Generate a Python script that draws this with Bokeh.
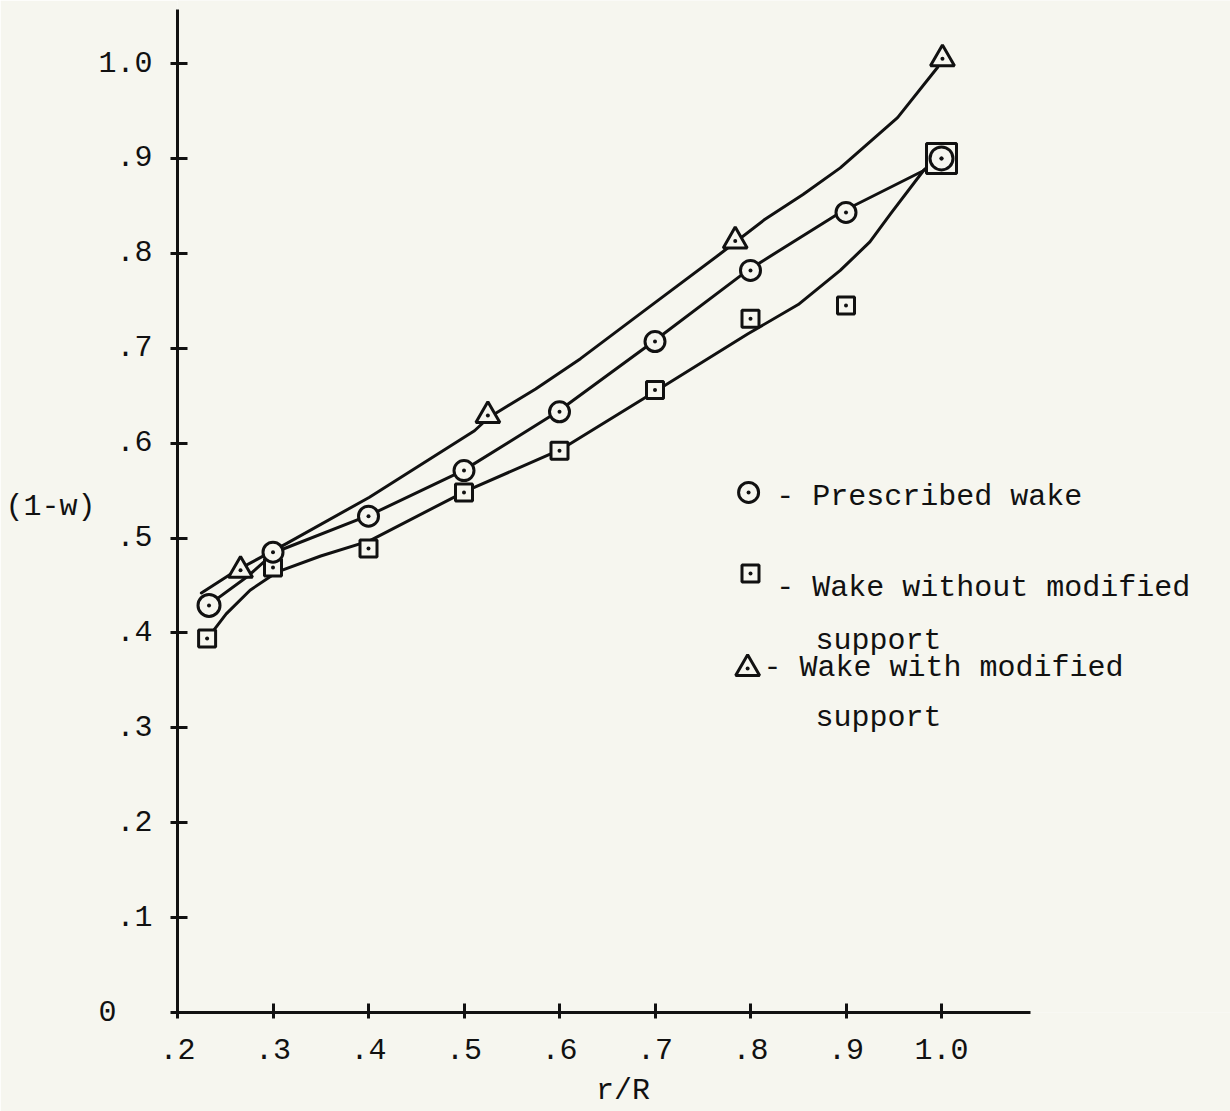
from bokeh.plotting import figure
from bokeh.models import FixedTicker, Label, Range1d
from bokeh.embed import file_html
from bokeh.resources import INLINE

# ---------------- data ----------------
x_ticks = [0.2, 0.3, 0.4, 0.5, 0.6, 0.7, 0.8, 0.9, 1.0]
x_tick_labels = [".2", ".3", ".4", ".5", ".6", ".7", ".8", ".9", "1.0"]
y_ticks = [0.0, 0.1, 0.2, 0.3, 0.4, 0.5, 0.6, 0.7, 0.8, 0.9, 1.0]
y_tick_labels = ["0\u00a0\u00a0", ".1", ".2", ".3", ".4", ".5", ".6", ".7", ".8", ".9", "1.0"]

# Prescribed wake (circles)
circ_x = [0.233, 0.3, 0.4, 0.5, 0.6, 0.7, 0.8, 0.9, 1.0]
circ_y = [0.429, 0.485, 0.523, 0.571, 0.633, 0.707, 0.782, 0.843, 0.900]
# Wake without modified support (squares)
sq_x = [0.231, 0.3, 0.4, 0.5, 0.6, 0.7, 0.8, 0.9, 1.0]
sq_y = [0.394, 0.469, 0.489, 0.548, 0.592, 0.656, 0.731, 0.745, 0.900]
# Wake with modified support (triangles)
tri_x = [0.266, 0.525, 0.784, 1.001]
tri_y = [0.466, 0.629, 0.813, 1.005]

# hand-drawn fair curves
tri_curve_x = [0.225, 0.262, 0.314, 0.401, 0.511, 0.526, 0.575, 0.622, 0.692, 0.769, 0.814, 0.855, 0.894, 0.954, 0.996]
tri_curve_y = [0.442, 0.466, 0.494, 0.543, 0.613, 0.627, 0.657, 0.689, 0.742, 0.800, 0.835, 0.862, 0.890, 0.943, 0.996]
circ_curve_x = [0.232, 0.274, 0.302, 0.401, 0.499, 0.598, 0.697, 0.797, 0.894, 0.981, 0.996]
circ_curve_y = [0.429, 0.460, 0.485, 0.524, 0.571, 0.633, 0.706, 0.782, 0.843, 0.887, 0.900]
sq_curve_x = [0.232, 0.251, 0.276, 0.304, 0.350, 0.401, 0.503, 0.601, 0.698, 0.797, 0.850, 0.894, 0.925, 0.947, 0.981, 0.996]
sq_curve_y = [0.395, 0.420, 0.445, 0.464, 0.481, 0.497, 0.550, 0.593, 0.653, 0.715, 0.746, 0.782, 0.812, 0.842, 0.887, 0.900]

legend_texts = ["- Prescribed wake", "- Wake without modified", "support",
                "- Wake with modified", "support"]

# ---------------- style ----------------
BG = "#f6f6ef"
INK = "#111111"
FONT = "Liberation Mono"
FS = "30px"
LW = 3

W, H = 1230, 1111
AX_LEFT, AX_BOTTOM = 177, 1012          # screen position of the axes corner
PX_X, PX_Y = 955.0, 949.0               # pixels per unit

x_end = 0.2 + (W - AX_LEFT) / PX_X
y_end = AX_BOTTOM / PX_Y

p = figure(width=W, height=H, output_backend="svg", toolbar_location=None,
           x_range=Range1d(0.2, x_end), y_range=Range1d(0.0, y_end))
p.min_border_left = AX_LEFT
p.min_border_right = 0
p.min_border_top = 0
p.min_border_bottom = H - AX_BOTTOM
p.background_fill_color = BG
p.border_fill_color = BG
p.outline_line_color = None
p.grid.visible = False

for ax in (p.xaxis[0], p.yaxis[0]):
    ax.axis_line_width = LW
    ax.axis_line_color = INK
    ax.major_tick_line_width = LW
    ax.major_tick_line_color = INK
    ax.minor_tick_line_color = None
    ax.major_label_text_font = FONT
    ax.major_label_text_font_size = FS
    ax.major_label_text_color = INK
    ax.axis_label_text_font = FONT
    ax.axis_label_text_font_size = FS
    ax.axis_label_text_font_style = "normal"
    ax.axis_label_text_color = INK

p.xaxis.bounds = (0.2, 1.093)
p.xaxis.ticker = FixedTicker(ticks=x_ticks)
p.xaxis.major_label_overrides = {t: l for t, l in zip(x_ticks, x_tick_labels)}
p.xaxis.major_tick_in = 9
p.xaxis.major_tick_out = 6
p.xaxis.major_label_standoff = 20
p.xaxis.axis_label = "r/R" + "\u00a0" * 9
p.xaxis.axis_label_standoff = 12

p.yaxis.bounds = (0.0, 1.057)
p.yaxis.ticker = FixedTicker(ticks=y_ticks)
p.yaxis.major_label_overrides = {t: l for t, l in zip(y_ticks, y_tick_labels)}
p.yaxis.major_tick_in = 10
p.yaxis.major_tick_out = 7
p.yaxis.major_label_standoff = 18
p.yaxis.axis_label = "(1-w)"
p.yaxis.axis_label_orientation = "horizontal"
p.yaxis.axis_label_standoff = 0

# curves
for cx, cy in ((tri_curve_x, tri_curve_y), (circ_curve_x, circ_curve_y), (sq_curve_x, sq_curve_y)):
    p.line(cx, cy, line_color=INK, line_width=LW, line_join="round", line_cap="round")

# markers
sq_sizes = [17] * (len(sq_x) - 1) + [30]
circ_sizes = [22] + [20] * (len(circ_x) - 2) + [23]
p.scatter(sq_x, sq_y, marker="square", size=sq_sizes, fill_color=BG, line_color=INK, line_width=LW)
p.scatter(circ_x, circ_y, marker="circle", size=circ_sizes, fill_color=BG, line_color=INK, line_width=LW)
p.scatter(tri_x, tri_y, marker="triangle", size=24, fill_color=BG, line_color=INK, line_width=LW)
for xs, ys in ((sq_x, sq_y), (circ_x, circ_y), (tri_x, tri_y)):
    p.scatter(xs, ys, marker="circle", size=4, fill_color=INK, line_color=None)

# legend (hand-lettered key)
lg_marker_x = [0.798, 0.800, 0.797]
lg_marker_y = [0.548, 0.4626, 0.3625]
lg_markers = ["circle", "square", "triangle"]
lg_sizes = [20, 17, 24]
for mx, my, mk, ms in zip(lg_marker_x, lg_marker_y, lg_markers, lg_sizes):
    p.scatter([mx], [my], marker=mk, size=ms, fill_color=BG, line_color=INK, line_width=LW)
    p.scatter([mx], [my], marker="circle", size=4, fill_color=INK, line_color=None)

lg_text_x = [0.827, 0.827, 0.868, 0.8136, 0.868]
lg_text_y = [0.543, 0.447, 0.391, 0.3625, 0.310]
for tx, ty, t in zip(lg_text_x, lg_text_y, legend_texts):
    p.add_layout(Label(x=tx, y=ty, text=t, text_font=FONT, text_font_size=FS,
                       text_color=INK, text_align="left", text_baseline="middle"))

open("out.html", "w").write(file_html(p, INLINE))
